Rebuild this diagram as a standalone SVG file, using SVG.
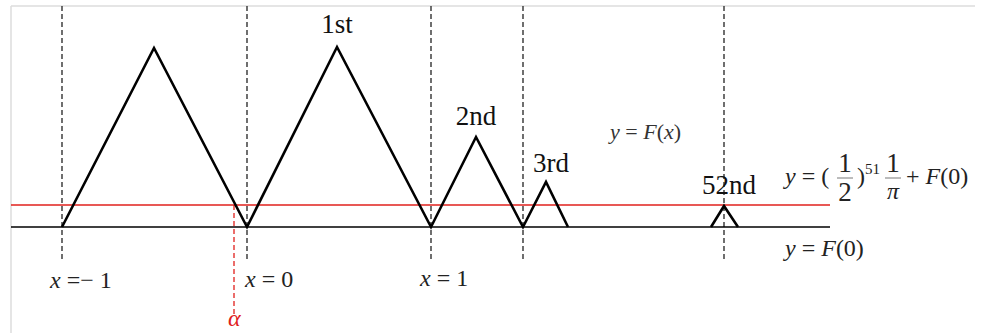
<svg xmlns="http://www.w3.org/2000/svg" width="981" height="333" viewBox="0 0 981 333">
<style>
.frame{stroke:#dcdcdc;stroke-width:1.5;fill:none}
.dash{stroke:#222;stroke-width:1.3;stroke-dasharray:5,3;fill:none}
.rdash{stroke:#e0201c;stroke-width:1.3;stroke-dasharray:5,3;fill:none}
.tri{stroke:#000;stroke-width:2.6;fill:none;stroke-linejoin:miter}
.base{stroke:#000;stroke-width:1.5}
.red{stroke:#e0201c;stroke-width:1.5}
.lbl{font-family:"Liberation Serif",serif;font-size:27px;fill:#111}
.m{font-family:"Liberation Serif",serif;font-size:24px;fill:#222}
.f{font-family:"Liberation Serif",serif;font-size:27px;fill:#222}
.i{font-style:italic}
.bar{stroke:#555;stroke-width:0.8}
</style>
<rect width="981" height="333" fill="#fff"/>
<g id="frame">
<line class="frame" x1="11" y1="6" x2="975" y2="6"/>
<line class="frame" x1="11" y1="6" x2="11" y2="333"/>
</g>
<g id="guides">
<line class="dash" x1="62" y1="6" x2="62" y2="259"/>
<line class="dash" x1="247" y1="6" x2="247" y2="259"/>
<line class="dash" x1="431" y1="6" x2="431" y2="259"/>
<line class="dash" x1="523" y1="6" x2="523" y2="259"/>
<line class="dash" x1="724" y1="6" x2="724" y2="259"/>
<line class="rdash" x1="234" y1="205" x2="234" y2="314"/>
</g>
<g id="lines">
<line class="base" x1="11" y1="227" x2="830" y2="227"/>
<line class="red" x1="11" y1="205" x2="830" y2="205"/>
</g>
<g id="curve">
<polyline class="tri" points="62,227 154,48 247,227 337,47 431,227 476,137 523,227 546,182 568,227"/>
<polyline class="tri" points="711,227 724,206 738,227"/>
</g>
<g id="peak-labels">
<text class="lbl" x="337" y="33" text-anchor="middle">1st</text>
<text class="lbl" x="476" y="125" text-anchor="middle">2nd</text>
<text class="lbl" x="551" y="172" text-anchor="middle">3rd</text>
<text class="lbl" x="729" y="194" text-anchor="middle">52nd</text>
</g>
<g id="x-labels">
<text class="m" x="50" y="288"><tspan class="i">x</tspan> =− 1</text>
<text class="m" x="245" y="287"><tspan class="i">x</tspan> = 0</text>
<text class="m" x="420" y="286"><tspan class="i">x</tspan> = 1</text>
<text class="m i" x="228" y="326" style="fill:#e0201c">α</text>
</g>
<g id="fx-label">
<text class="m" x="610" y="139" style="font-size:22px;fill:#333"><tspan class="i">y</tspan> = <tspan class="i">F</tspan>(<tspan class="i">x</tspan>)</text>
</g>
<g id="red-label">
<text class="m" x="785" y="184"><tspan class="i">y</tspan> = (</text>
<text class="f" x="845" y="172" text-anchor="middle">1</text>
<line class="bar" x1="837" y1="178" x2="853" y2="178"/>
<text class="f" x="845" y="201" text-anchor="middle">2</text>
<text class="m" x="857" y="184">)</text>
<text class="m" x="865" y="174" style="font-size:15px">51</text>
<text class="f" x="893" y="172" text-anchor="middle">1</text>
<line class="bar" x1="885" y1="178" x2="901" y2="178"/>
<text class="m i" x="893" y="199" text-anchor="middle">π</text>
<text class="m" x="906" y="184">+ <tspan class="i">F</tspan>(0)</text>
</g>
<g id="base-label">
<text class="m" x="785" y="256"><tspan class="i">y</tspan> = <tspan class="i">F</tspan>(0)</text>
</g>
</svg>
